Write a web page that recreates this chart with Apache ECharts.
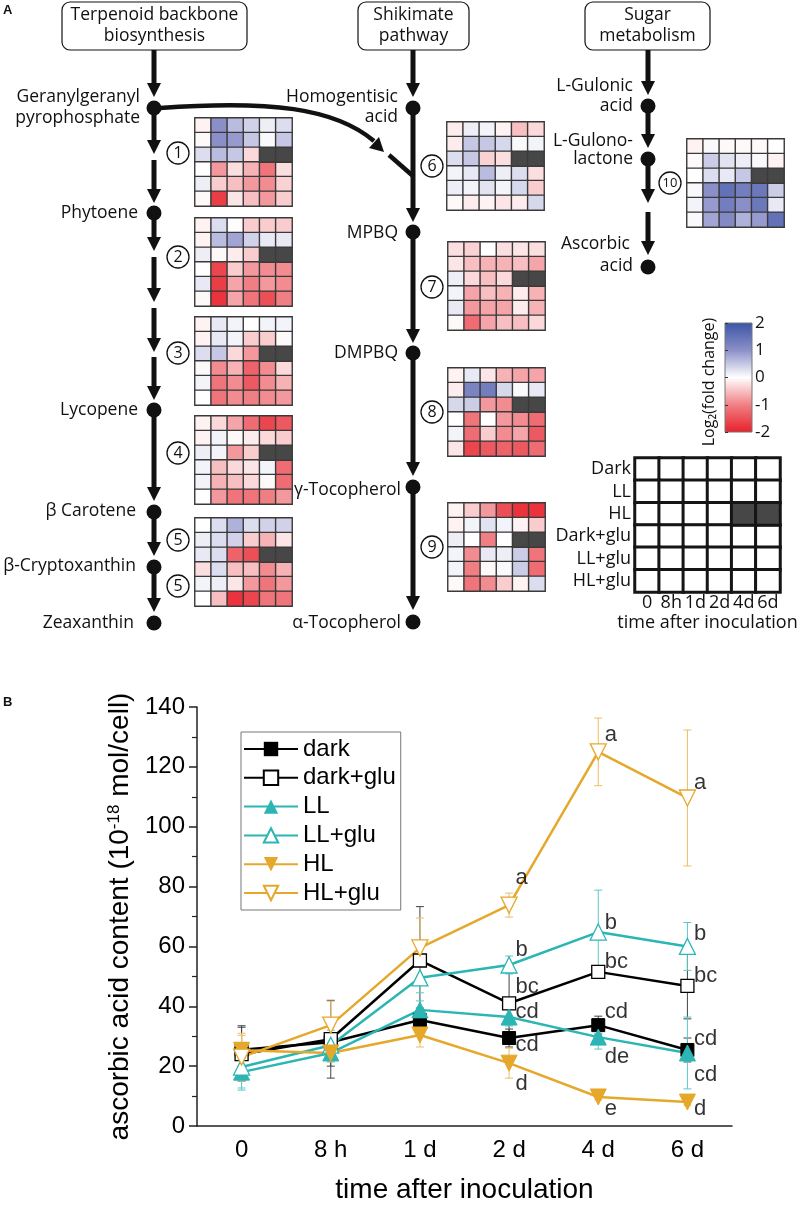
<!DOCTYPE html>
<html>
<head>
<meta charset="utf-8" />
<title>Ascorbic acid pathway</title>
<script src="https://cdn.jsdelivr.net/npm/echarts@6/dist/echarts.min.js"></script>
<style>html, body { margin: 0; padding: 0; background: #fff; }</style>
</head>
<body>
<div id="main" style="width: 800px; height: 1213px"></div>
<script>
// ---- panel A: log2 fold change, rows = conditions, cols = time points (null = no data)
var heatTimes = ["0", "8h", "1d", "2d", "4d", "6d"];
var conditions = ["Dark", "LL", "HL", "Dark+glu", "LL+glu", "HL+glu"];

var step1 = [
  [-0.1, 1.0, 0.6, 0.4, 0.15, 0.3],
  [-0.05, 1.0, 0.9, 0.5, 0.05, 0.5],
  [0.3, 0.6, 0.5, -0.3, null, null],
  [0, -0.8, -0.25, -0.6, -1.1, -0.25],
  [0.15, -0.4, -0.5, -0.8, -0.9, -0.35],
  [-0.05, -1.7, -0.2, -0.5, -0.8, -0.4]
];
var step2 = [
  [-0.1, 0.3, -0.02, -0.4, -0.4, -0.4],
  [-0.1, 0.6, 0.8, 0.4, 0.2, 0.2],
  [0.15, -0.05, -0.15, -0.4, null, null],
  [0, -1.6, -0.4, -0.8, -0.9, -0.9],
  [0.2, -1.7, -0.7, -1.0, -0.8, -0.9],
  [-0.05, -1.8, -0.7, -1.1, -1.5, -1.0]
];
var step3 = [
  [-0.1, 0.2, 0.1, 0, 0.1, 0.1],
  [-0.1, 0.2, 0.1, -0.4, -0.4, -0.05],
  [0.3, 0.5, -0.3, -0.8, null, null],
  [-0.05, -0.9, -0.6, -1.3, -0.9, -0.3],
  [0.1, -1.1, -0.9, -1.4, -0.9, -0.6],
  [0, -1.1, -0.9, -1.0, -0.9, -0.8]
];
var step4 = [
  [-0.1, -0.3, -0.7, -1.2, -1.6, -1.4],
  [-0.1, 0.1, -0.05, -0.15, -0.3, -0.4],
  [0.15, 0.1, -0.8, -0.4, null, null],
  [0.1, -0.5, -0.3, -0.2, 0.1, -1.2],
  [0.1, -0.6, -0.5, -0.3, -0.05, -1.2],
  [0, -0.8, -1.1, -1.1, -1.0, -0.8]
];
var step5 = [
  [0, 0.3, 0.7, 0.3, 0.4, 0.4],
  [0.15, 0.3, 0.4, -0.4, -0.6, -0.2],
  [0.2, 0.3, -1.3, -1.5, null, null],
  [-0.25, 0.3, -0.5, -0.5, -0.9, -0.6],
  [0.1, 0.15, -0.2, -0.8, -1.1, -0.8],
  [0, -0.5, -1.8, -1.6, -1.1, -1.1]
];
var step6 = [
  [-0.15, 0.15, 0.1, -0.1, -0.5, -0.3],
  [-0.15, 0.5, 0.5, 0.35, 0.05, 0.1],
  [0.3, 0.5, -0.35, -0.25, null, null],
  [0.1, 0.2, 0.6, 0.15, 0.3, -0.25],
  [0.15, 0.1, 0.25, 0.1, 0.35, -0.4],
  [-0.05, -0.15, -0.1, -0.2, -0.15, 0.35]
];
var step7 = [
  [-0.25, -0.35, 0, -0.25, -0.2, -0.25],
  [-0.2, -0.5, -0.6, -0.6, -0.5, -0.7],
  [0.15, -0.3, -0.5, -0.3, null, null],
  [0.1, -0.7, -0.5, -0.6, -0.15, -0.6],
  [0.2, -0.8, -0.7, -0.7, -0.15, -0.6],
  [-0.05, -1.2, -0.7, -0.5, -0.5, -0.3]
];
var step8 = [
  [-0.1, 0.2, -0.2, -0.6, -0.7, -0.7],
  [-0.15, 1.2, 1.3, 0.35, 0.05, 0.2],
  [0.35, 0.45, -0.8, -0.9, null, null],
  [0, -1.1, 0, -0.8, -0.9, -1.2],
  [0.1, -1.2, -0.4, -0.9, -0.7, -1.4],
  [-0.2, -1.6, -1.4, -1.3, -1.4, -1.2]
];
var step9 = [
  [-0.1, -0.4, -0.8, -1.5, -1.8, -1.8],
  [-0.1, 0.1, 0.25, 0.1, -0.1, -0.4],
  [0.15, 0, -1.0, 0, null, null],
  [0.1, -0.9, 0.2, 0.15, 0.45, -1.1],
  [0.1, -1.0, -0.05, 0.05, 0.45, -1.2],
  [-0.05, -1.1, -0.9, -0.4, -0.1, 0.3]
];
var step10 = [
  [-0.1, 0.05, -0.05, -0.05, -0.05, 0],
  [-0.05, 0.45, 0.25, 0.15, 0.05, -0.1],
  [0, 0.3, 0.2, 0.5, null, null],
  [0.05, 1.0, 1.5, 1.3, 1.4, 0.45],
  [0.1, 0.9, 1.3, 1.0, 1.4, 0.2],
  [0.05, 0.8, 1.1, 0.7, 0.9, 1.5]
];
var colorTicks = [-2, -1, 0, 1, 2];

// ---- panel B: ascorbic acid (10^-18 mol/cell), mean and error
var times = ["0", "8 h", "1 d", "2 d", "4 d", "6 d"];
var dark = [25.5, 28, 35.4, 29.4, 33.7, 25.4];
var darkErr = [8, 8, 4, 3, 3, 4];
var darkGlu = [24, 29, 55.3, 41, 51.5, 46.8];
var darkGluErr = [9, 13, 18, 12, 2, 11];
var ll = [18, 24.4, 38.8, 36.4, 29.7, 24.4];
var llErr = [6, 3, 3, 3, 4, 12];
var llGlu = [19.7, 27, 49.5, 53.8, 64.8, 60];
var llGluErr = [7, 5, 5, 3, 14, 8];
var hl = [25.3, 24.4, 30.4, 21, 9.7, 8];
var hlErr = [5, 3, 4, 5, 1, 1];
var hlGlu = [23, 33.7, 59.5, 73.8, 125, 109.6];
var hlGluErr = [8, 8, 10, 4, 11.3, 22.7];
// significance letters: [time index, value where the letter sits, letter]
var sigLetters = [
  [4, 130.6, "a"], [5, 114.6, "a"], [3, 82.9, "a"],
  [4, 67.8, "b"], [5, 64.1, "b"], [3, 58.8, "b"],
  [4, 54.8, "bc"], [5, 50.1, "bc"], [3, 46.4, "bc"],
  [3, 38.1, "cd"], [4, 38.1, "cd"], [5, 29.1, "cd"], [3, 27.1, "cd"],
  [4, 23.1, "de"], [5, 17, "cd"], [3, 14, "d"], [4, 5.7, "e"], [5, 5.7, "d"]
];

var sans = "'Open Sans', 'DejaVu Sans', sans-serif";
var arial = "'Liberation Sans', Arial, sans-serif";
var ink = "#111";
var teal = "#2bb5b5";
var gold = "#e5a82b";

var chart = echarts.init(document.getElementById("main"));

function cells(rows) {
  var out = [];
  rows.forEach(function (row, r) {
    row.forEach(function (v, c) { if (v !== null) out.push([c, r, v]); });
  });
  return out;
}
function missing(rows) {
  var out = [];
  rows.forEach(function (row, r) {
    row.forEach(function (v, c) { if (v === null) out.push([c, r, 0]); });
  });
  return out;
}

var steps = [step1, step2, step3, step4, step5, step6, step7, step8, step9, step10];
var boxes = [
  [195, 118], [195, 218], [195, 317], [195, 416], [195, 518],
  [447, 122], [448, 242], [448, 368], [448, 503], [687, 139]
];

var grids = [], xAxes = [], yAxes = [], series = [], naSeries = [];
steps.forEach(function (rows, i) {
  grids.push({ left: boxes[i][0], top: boxes[i][1], width: 97, height: 88 });
  xAxes.push({ type: "category", gridIndex: i, data: heatTimes, show: false });
  yAxes.push({ type: "category", gridIndex: i, data: conditions, inverse: true, show: false });
  series.push({
    type: "heatmap", xAxisIndex: i, yAxisIndex: i, data: cells(rows),
    itemStyle: { borderColor: "#3a3a3a", borderWidth: 1.4 }
  });
  naSeries.push({
    type: "heatmap", xAxisIndex: i, yAxisIndex: i, data: missing(rows),
    itemStyle: { color: "#474747", borderColor: "#3a3a3a", borderWidth: 1.4 }
  });
});
series = series.concat(naSeries);

// key grid (index 10)
grids.push({ left: 635, top: 458, width: 145, height: 134 });
xAxes.push({
  type: "category", gridIndex: 10, data: heatTimes,
  axisLine: { show: false }, axisTick: { show: false },
  axisLabel: { interval: 0, color: ink, fontSize: 18, fontFamily: sans, margin: 2 },
  name: "time after inoculation", nameLocation: "middle", nameGap: 22,
  nameTextStyle: { color: ink, fontSize: 18, fontFamily: sans }
});
yAxes.push({
  type: "category", gridIndex: 10, data: conditions, inverse: true,
  axisLine: { show: false }, axisTick: { show: false },
  axisLabel: { interval: 0, color: ink, fontSize: 18, fontFamily: sans, margin: 4 }
});
var keyCells = cells(step1.map(function (r) { return r.map(function (v) { return v === null ? null : 0; }); }));
series.push({
  type: "heatmap", xAxisIndex: 10, yAxisIndex: 10, data: keyCells,
  itemStyle: { color: "#ffffff", borderColor: "#151515", borderWidth: 3 }
});
series.push({
  type: "heatmap", xAxisIndex: 10, yAxisIndex: 10, data: missing(step1),
  itemStyle: { color: "#474747", borderColor: "#151515", borderWidth: 3 }
});

// colour bar axis (index 11)
grids.push({ left: 725, top: 323, width: 27, height: 109 });
xAxes.push({ type: "value", gridIndex: 11, show: false });
yAxes.push({
  type: "value", gridIndex: 11, min: -2, max: 2, interval: 1, position: "right",
  axisLine: { show: false }, splitLine: { show: false },
  axisTick: { show: true, length: 3, lineStyle: { color: "#333" } },
  axisLabel: { color: ink, fontSize: 17, fontFamily: sans, margin: 3,
    formatter: function (v) { return colorTicks.indexOf(v) >= 0 ? String(v) : ""; } }
});

// panel B (index 12)
grids.push({ left: 197, top: 707, right: 68, bottom: 87 });
xAxes.push({
  type: "category", gridIndex: 12, data: times, boundaryGap: true,
  axisLine: { lineStyle: { color: "#222", width: 1.5 } },
  axisTick: { alignWithLabel: true, length: 8, lineStyle: { color: "#222", width: 1.5 } },
  axisLabel: { color: "#000", fontSize: 24, fontFamily: arial, margin: 12 },
  name: "time after inoculation", nameLocation: "middle", nameGap: 50,
  nameTextStyle: { color: "#000", fontSize: 28, fontFamily: arial }
});
yAxes.push({
  type: "value", gridIndex: 12, min: 0, max: 140, interval: 20,
  axisLine: { show: true, lineStyle: { color: "#222", width: 1.5 } },
  axisTick: { show: true, length: 8, lineStyle: { color: "#222", width: 1.5 } },
  minorTick: { show: true, splitNumber: 2, length: 5, lineStyle: { color: "#222", width: 1.2 } },
  splitLine: { show: false },
  axisLabel: { color: "#000", fontSize: 24, fontFamily: arial, margin: 12 },
  name: "{a|ascorbic acid content (10}{s|-18}{a| mol/cell)}",
  nameLocation: "middle", nameGap: 55,
  nameTextStyle: {
    color: "#000", fontFamily: arial,
    rich: {
      a: { fontSize: 28, fontFamily: arial, color: "#000" },
      s: { fontSize: 17, fontFamily: arial, color: "#000", verticalAlign: "top", padding: [0, 0, 12, 0] }
    }
  }
});

function line(name, values, color, symbol, open, rotate) {
  return {
    name: name, type: "line", xAxisIndex: 12, yAxisIndex: 12, data: values,
    symbol: symbol, symbolSize: symbol === "rect" ? 13 : 16, symbolRotate: rotate || 0,
    showAllSymbol: true, z: 4,
    lineStyle: { color: color, width: 2.5 },
    itemStyle: open ? { color: "#fff", borderColor: color, borderWidth: 1.3 } : { color: color, borderColor: color },
    color: color
  };
}
function errorBars(values, errs, color) {
  var data = values.map(function (v, i) { return [i, v - errs[i], v + errs[i]]; });
  return {
    type: "custom", xAxisIndex: 12, yAxisIndex: 12, data: data, z: 3,
    encode: { x: 0, y: [1, 2] },
    renderItem: function (params, api) {
      var lo = api.coord([api.value(0), api.value(1)]);
      var hi = api.coord([api.value(0), api.value(2)]);
      function seg(x1, y1, x2, y2) {
        return { type: "line", shape: { x1: x1, y1: y1, x2: x2, y2: y2 }, style: { stroke: color, lineWidth: 1 } };
      }
      return { type: "group", children: [
        seg(lo[0], lo[1], hi[0], hi[1]),
        seg(lo[0] - 4, lo[1], lo[0] + 4, lo[1]),
        seg(hi[0] - 4, hi[1], hi[0] + 4, hi[1])
      ] };
    }
  };
}

series.push(errorBars(dark, darkErr, "#444"));
series.push(errorBars(darkGlu, darkGluErr, "#444"));
series.push(errorBars(ll, llErr, "#5cc8c8"));
series.push(errorBars(llGlu, llGluErr, "#5cc8c8"));
series.push(errorBars(hl, hlErr, "#ebbd62"));
series.push(errorBars(hlGlu, hlGluErr, "#ebbd62"));
series.push(line("dark", dark, "#000", "rect", false));
series.push(line("dark+glu", darkGlu, "#000", "rect", true));
series.push(line("LL", ll, teal, "triangle", false));
series.push(line("LL+glu", llGlu, teal, "triangle", true));
series.push(line("HL", hl, gold, "triangle", false, 180));
series.push(line("HL+glu", hlGlu, gold, "triangle", true, 180));
series.push({
  type: "scatter", xAxisIndex: 12, yAxisIndex: 12, data: sigLetters, symbolSize: 1, z: 5,
  itemStyle: { color: "transparent" },
  label: { show: true, position: "right", distance: 6, color: "#000", fontSize: 22, fontFamily: arial,
    formatter: function (p) { return p.data[2]; } }
});

// ---- pathway drawing for panel A
var g = [];
function shaft(x, y1, y2) {
  g.push({ type: "line", shape: { x1: x, y1: y1, x2: x, y2: y2 }, style: { stroke: ink, lineWidth: 5 } });
}
function arrow(x, y1, tip) {
  shaft(x, y1, tip - 10);
  g.push({ type: "polygon", shape: { points: [[x - 7, tip - 14], [x + 7, tip - 14], [x, tip]] }, style: { fill: ink } });
}
function dot(x, y) {
  g.push({ type: "circle", shape: { cx: x, cy: y, r: 7.5 }, style: { fill: ink } });
}
function label(x, y, text, align) {
  g.push({ type: "text", x: x, y: y, style: { text: text, fill: ink, font: "17.5px " + sans, align: align || "right", verticalAlign: "middle" } });
}
function circled(x, y, n) {
  g.push({ type: "circle", shape: { cx: x, cy: y, r: 11 }, style: { fill: "#fff", stroke: ink, lineWidth: 1.3 } });
  g.push({ type: "text", x: x, y: y + 0.5, style: { text: n, fill: ink, font: (n.length > 1 ? "13px " : "16px ") + sans, align: "center", verticalAlign: "middle" } });
}
function titleBox(x1, x2, l1, l2) {
  g.push({ type: "rect", shape: { x: x1, y: 2, width: x2 - x1, height: 48, r: 8 }, style: { fill: "#fff", stroke: ink, lineWidth: 1.2 } });
  g.push({ type: "text", x: (x1 + x2) / 2, y: 15, style: { text: l1, fill: ink, font: "17.5px " + sans, align: "center", verticalAlign: "middle" } });
  g.push({ type: "text", x: (x1 + x2) / 2, y: 36, style: { text: l2, fill: ink, font: "17.5px " + sans, align: "center", verticalAlign: "middle" } });
}

g.push({ type: "text", x: 3, y: 4, style: { text: "A", fill: ink, font: "bold 13px " + arial } });
g.push({ type: "text", x: 3, y: 696, style: { text: "B", fill: ink, font: "bold 13px " + arial } });

titleBox(62, 247, "Terpenoid backbone", "biosynthesis");
titleBox(358, 469, "Shikimate", "pathway");
titleBox(585, 710, "Sugar", "metabolism");

// terpenoid column
var L = 154;
arrow(L, 50, 97); dot(L, 108);
arrow(L, 108, 154); arrow(L, 160, 203); dot(L, 213);
arrow(L, 213, 251); arrow(L, 257, 302); arrow(L, 308, 352); arrow(L, 357, 400); dot(L, 410);
arrow(L, 410, 501); dot(L, 512);
arrow(L, 512, 556); dot(L, 567);
arrow(L, 567, 612); dot(L, 623);
label(140, 97, "Geranylgeranyl"); label(140, 118, "pyrophosphate");
label(138, 213, "Phytoene"); label(138, 410, "Lycopene");
label(136, 511, "β Carotene"); label(136, 566, "β-Cryptoxanthin");
label(134, 623, "Zeaxanthin");
circled(178, 153, "1"); circled(178, 257, "2"); circled(178, 353, "3");
circled(178, 453, "4"); circled(178, 540, "5"); circled(178, 586, "5");

// branch from GGPP to the shikimate line
g.push({ type: "bezierCurve", shape: { x1: 160, y1: 108, cpx1: 270, cpy1: 100, cpx2: 335, cpy2: 108, x2: 374, y2: 141 },
  style: { stroke: ink, lineWidth: 4.5, fill: null } });
g.push({ type: "polygon", shape: { points: [[369, 148], [379, 137], [384, 152]] }, style: { fill: ink } });
g.push({ type: "line", shape: { x1: 389, y1: 155, x2: 413, y2: 176 }, style: { stroke: ink, lineWidth: 4.5 } });

// shikimate column
var M = 413;
arrow(M, 50, 97); dot(M, 108);
arrow(M, 108, 222); dot(M, 232);
arrow(M, 232, 343); dot(M, 353);
arrow(M, 353, 476); dot(M, 487);
arrow(M, 487, 610); dot(M, 622);
label(398, 97, "Homogentisic"); label(398, 117, "acid");
label(398, 233, "MPBQ"); label(398, 353, "DMPBQ");
label(401, 490, "γ-Tocopherol"); label(401, 623, "α-Tocopherol");
circled(432, 166, "6"); circled(432, 287, "7"); circled(432, 412, "8"); circled(432, 547, "9");

// sugar column
var R = 648;
arrow(R, 50, 95); dot(R, 106);
arrow(R, 106, 148); dot(R, 159);
arrow(R, 159, 203); arrow(R, 212, 255); dot(R, 267);
label(633, 86, "L-Gulonic"); label(633, 106, "acid");
label(633, 141, "L-Gulono-"); label(633, 159, "lactone");
label(630, 244, "Ascorbic"); label(633, 266, "acid");
circled(670, 183, "10");

// colour bar
g.push({ type: "rect", shape: { x: 725, y: 323, width: 27, height: 109 },
  style: { stroke: "#777", lineWidth: 1,
    fill: new echarts.graphic.LinearGradient(0, 0, 0, 1, [
      { offset: 0, color: "#3a55a5" }, { offset: 0.25, color: "#8b8fc8" },
      { offset: 0.5, color: "#ffffff" }, { offset: 0.75, color: "#f07f84" },
      { offset: 1, color: "#e8202a" }]) } });
g.push({ type: "text", x: 709, y: 382, rotation: Math.PI / 2,
  style: { text: "Log₂(fold change)", fill: ink, font: "16px " + sans, align: "center", verticalAlign: "middle" } });

var option = {
  animation: false,
  backgroundColor: "#fff",
  textStyle: { fontFamily: arial },
  grid: grids,
  xAxis: xAxes,
  yAxis: yAxes,
  visualMap: {
    show: false, type: "continuous", min: -2, max: 2,
    seriesIndex: [0, 1, 2, 3, 4, 5, 6, 7, 8, 9],
    inRange: { color: ["#e8202a", "#f07f84", "#ffffff", "#8b8fc8", "#3a55a5"] }
  },
  legend: {
    data: ["dark", "dark+glu", "LL", "LL+glu", "HL", "HL+glu"],
    orient: "vertical", left: 241, top: 732,
    itemWidth: 54, itemHeight: 18, itemGap: 4.8,
    padding: [5, 5, 5, 2], borderColor: "#777", borderWidth: 1,
    textStyle: { color: "#000", fontSize: 24, fontFamily: arial, padding: [0, 0, 0, 0] }
  },
  graphic: g,
  series: series
};
chart.setOption(option);
</script>
</body>
</html>
